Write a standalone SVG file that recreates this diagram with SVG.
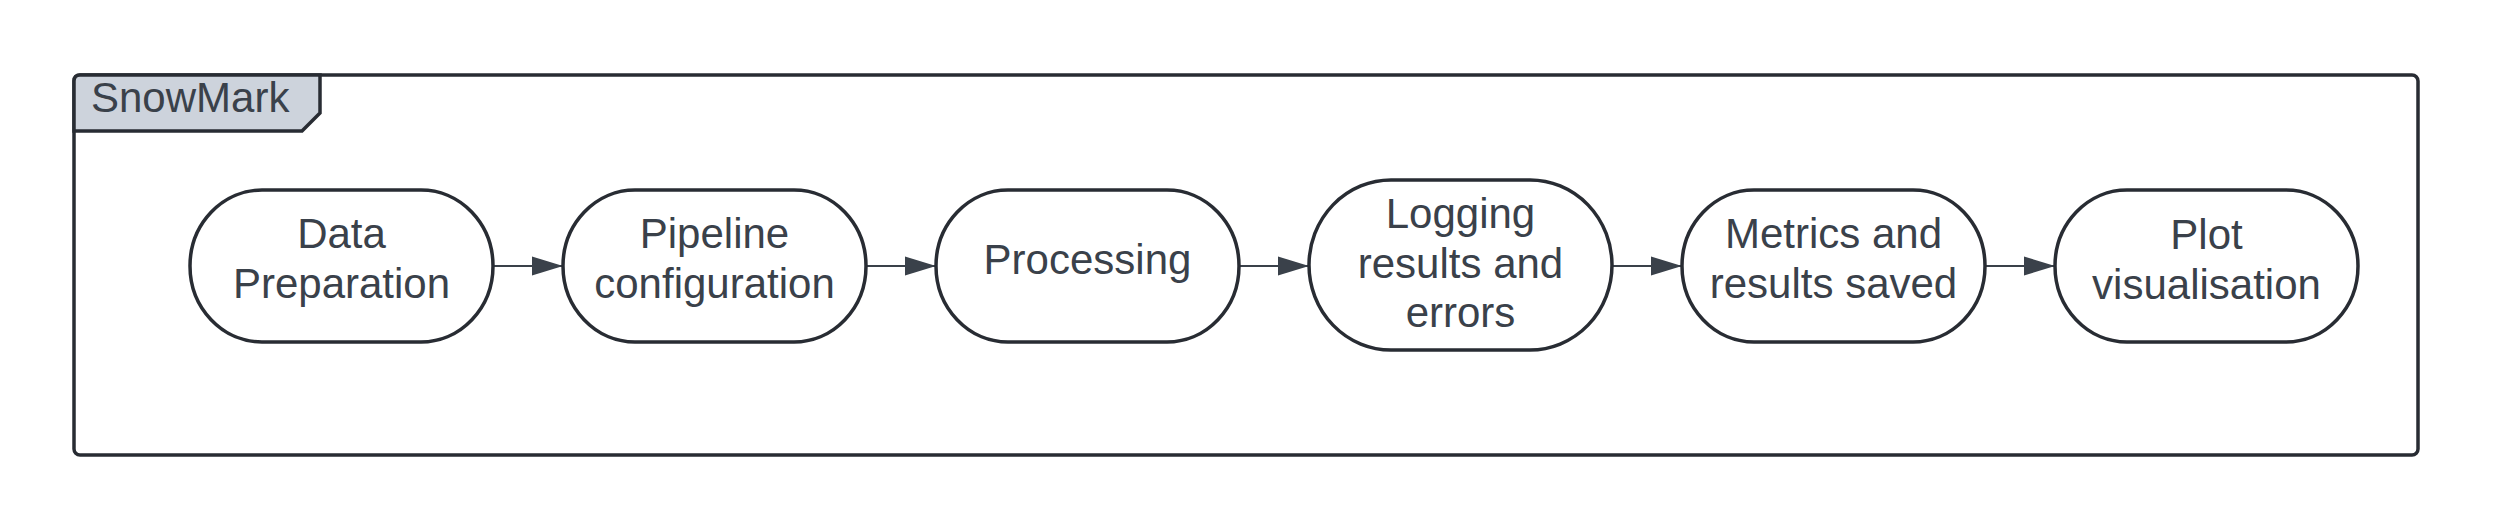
<svg xmlns="http://www.w3.org/2000/svg" width="2496" height="531" viewBox="0 0 2496 531">
<style>
.node{fill:#ffffff;stroke:#282c33;stroke-width:3.5}
.lbl{font-family:"Liberation Sans",Arial,sans-serif;font-size:42px;fill:#3a414a;text-anchor:middle}
.conn{stroke:#3a414a;stroke-width:2;fill:none}
</style>
<defs>
<marker id="ah" markerWidth="31" markerHeight="20" refX="31" refY="10" orient="auto" markerUnits="userSpaceOnUse">
<path d="M0,0.5 L31,10 L0,19.5 Z" fill="#3a414a"/>
</marker>
</defs>
<rect width="2496" height="531" fill="#ffffff"/>
<g id="frame">
<rect x="74" y="75" width="2344" height="380" rx="6" ry="6" fill="#ffffff" stroke="#282c33" stroke-width="3.5"/>
<path d="M74,81 Q74,75 80,75 L320,75 L320,113 L302,131 L74,131 Z" fill="#cdd3dc" stroke="#282c33" stroke-width="3.5"/>
<text x="91" y="112" font-family="'Liberation Sans',Arial,sans-serif" font-size="42" fill="#3a414a">SnowMark</text>
</g>
<g id="connectors">
<line class="conn" x1="493" y1="266" x2="563" y2="266" marker-end="url(#ah)"/>
<line class="conn" x1="866" y1="266" x2="936" y2="266" marker-end="url(#ah)"/>
<line class="conn" x1="1239" y1="266" x2="1309" y2="266" marker-end="url(#ah)"/>
<line class="conn" x1="1612" y1="266" x2="1682" y2="266" marker-end="url(#ah)"/>
<line class="conn" x1="1985" y1="266" x2="2055" y2="266" marker-end="url(#ah)"/>
</g>
<g id="n1">
<rect class="node" x="190" y="190" width="303" height="152" rx="72" ry="76"/>
<text class="lbl" x="341.5" y="248">Data</text>
<text class="lbl" x="341.5" y="298">Preparation</text>
</g>
<g id="n2">
<rect class="node" x="563" y="190" width="303" height="152" rx="72" ry="76"/>
<text class="lbl" x="714.5" y="248">Pipeline</text>
<text class="lbl" x="714.5" y="298">configuration</text>
</g>
<g id="n3">
<rect class="node" x="936" y="190" width="303" height="152" rx="72" ry="76"/>
<text class="lbl" x="1087.5" y="274">Processing</text>
</g>
<g id="n4">
<rect class="node" x="1309" y="180" width="303" height="170" rx="82" ry="85"/>
<text class="lbl" x="1460.5" y="228">Logging</text>
<text class="lbl" x="1460.5" y="278">results and</text>
<text class="lbl" x="1460.5" y="327">errors</text>
</g>
<g id="n5">
<rect class="node" x="1682" y="190" width="303" height="152" rx="72" ry="76"/>
<text class="lbl" x="1833.5" y="248">Metrics and</text>
<text class="lbl" x="1833.5" y="298">results saved</text>
</g>
<g id="n6">
<rect class="node" x="2055" y="190" width="303" height="152" rx="72" ry="76"/>
<text class="lbl" x="2206.5" y="249">Plot</text>
<text class="lbl" x="2206.5" y="299">visualisation</text>
</g>
</svg>
